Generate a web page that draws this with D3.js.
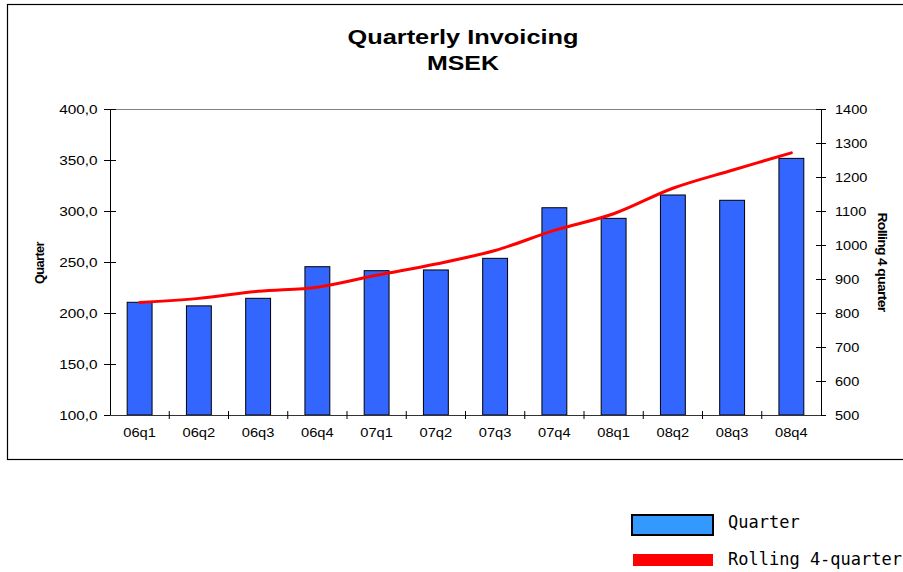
<!DOCTYPE html>
<html>
<head>
<meta charset="utf-8">
<script src="https://cdn.jsdelivr.net/npm/d3@7"></script>
<style>
  html, body { margin: 0; padding: 0; background: #fff; }
  svg { display: block; }
</style>
</head>
<body>
<svg id="chart" width="903" height="572"></svg>
<script>
const categories = ["06q1","06q2","06q3","06q4","07q1","07q2","07q3","07q4","08q1","08q2","08q3","08q4"];
const quarterValues = [210.5, 207.0, 214.4, 245.4, 241.5, 242.2, 253.6, 303.2, 292.8, 315.7, 310.5, 351.6];
const rollingValues = [831, 843, 864, 876, 911, 944, 984, 1043, 1092, 1167, 1220, 1271];
const leftTicks = [100, 150, 200, 250, 300, 350, 400];
const rightTicks = [500, 600, 700, 800, 900, 1000, 1100, 1200, 1300, 1400];
const titleLines = ["Quarterly Invoicing", "MSEK"];
const legendLabels = ["Quarter", "Rolling 4-quarter"];

const svg = d3.select("#chart");
const font = "'Liberation Sans', Arial, Helvetica, sans-serif";
const SX = 1.18; // horizontal stretch of the reference text

// outer frame
svg.append("rect").attr("x", 7.5).attr("y", 4.5).attr("width", 905).attr("height", 455)
  .attr("fill", "none").attr("stroke", "#000").attr("stroke-width", 1.2);

const plot = { left: 110, right: 821, top: 109, bottom: 415 };

const x = d3.scaleBand().domain(categories).range([plot.left, plot.right]).paddingInner(0.58).paddingOuter(0.29);
const xTickScale = d3.scaleLinear().domain([0, categories.length]).range([plot.left, plot.right]);
const yL = d3.scaleLinear().domain([100, 400]).range([plot.bottom, plot.top]);
const yR = d3.scaleLinear().domain([500, 1400]).range([plot.bottom, plot.top]);

// title
const titleWidths = [231, 72];
const titleY = [44, 70];
svg.selectAll("text.title").data(titleLines).join("text").attr("class", "title")
  .attr("x", 463).attr("y", (d, i) => titleY[i]).attr("text-anchor", "middle")
  .attr("font-family", font).attr("font-weight", "bold").attr("font-size", 21)
  .attr("textLength", (d, i) => titleWidths[i]).attr("lengthAdjust", "spacingAndGlyphs")
  .text(d => d);

// top border of plot area
svg.append("line").attr("x1", plot.left).attr("x2", plot.right).attr("y1", plot.top + 0.5).attr("y2", plot.top + 0.5)
  .attr("stroke", "#808080").attr("stroke-width", 1);

// bars
svg.append("g").selectAll("rect").data(categories).join("rect")
  .attr("x", d => x(d))
  .attr("y", (d, i) => yL(quarterValues[i]))
  .attr("width", x.bandwidth())
  .attr("height", (d, i) => plot.bottom - yL(quarterValues[i]))
  .attr("fill", "#3366FF").attr("stroke", "#000").attr("stroke-width", 1);

// line
const line = d3.line()
  .x((d, i) => x(categories[i]) + x.bandwidth() / 2)
  .y(d => yR(d))
  .curve(d3.curveCatmullRom.alpha(0.5));
svg.append("path").datum(rollingValues).attr("d", line)
  .attr("fill", "none").attr("stroke", "#FF0000").attr("stroke-width", 3).attr("stroke-linecap", "round");

// left axis
const leftAxis = d3.axisLeft(yL).tickValues(leftTicks).tickSizeInner(6).tickSizeOuter(0)
  .tickFormat(d => d3.format(".1f")(d).replace(".", ","));
const gL = svg.append("g").attr("transform", `translate(${plot.left},0)`).call(leftAxis);
gL.select(".domain").attr("stroke", "#000");
gL.selectAll(".tick line").attr("x2", 6).attr("x1", -6).attr("stroke", "#000");
gL.selectAll(".tick text").attr("x", -12.5 / SX).attr("transform", `scale(${SX},1)`)
  .attr("font-family", font).attr("font-size", 13).attr("fill", "#000");

// right axis
const rightAxis = d3.axisRight(yR).tickValues(rightTicks).tickSizeOuter(0).tickFormat(d3.format("d"));
const gR = svg.append("g").attr("transform", `translate(${plot.right},0)`).call(rightAxis);
gR.select(".domain").attr("stroke", "#000");
gR.selectAll(".tick line").attr("x1", -5).attr("x2", 5).attr("stroke", "#000");
gR.selectAll(".tick text").attr("x", 14 / 1.12).attr("transform", "scale(1.12,1)")
  .attr("font-family", font).attr("font-size", 13).attr("fill", "#000");

// bottom axis
const gB = svg.append("g").attr("transform", `translate(0,${plot.bottom})`);
gB.append("line").attr("x1", plot.left).attr("x2", plot.right).attr("y1", 0.5).attr("y2", 0.5).attr("stroke", "#333");
gB.selectAll("line.t").data(d3.range(1, categories.length)).join("line").attr("class", "t")
  .attr("x1", d => xTickScale(d)).attr("x2", d => xTickScale(d)).attr("y1", -4).attr("y2", 4).attr("stroke", "#000");
gB.selectAll("text").data(categories).join("text")
  .attr("transform", d => `translate(${x(d) + x.bandwidth() / 2},22) scale(1.13,1)`).attr("text-anchor", "middle")
  .attr("font-family", font).attr("font-size", 13).text(d => d);

// axis titles
svg.append("text").attr("transform", "translate(44,263) rotate(-90)").attr("text-anchor", "middle")
  .attr("font-family", font).attr("font-weight", "bold").attr("font-size", 12.5).attr("letter-spacing", -0.6)
  .attr("textLength", 42).attr("lengthAdjust", "spacingAndGlyphs").text("Quarter");
svg.append("text").attr("transform", "translate(878,262) rotate(90)").attr("text-anchor", "middle")
  .attr("font-family", font).attr("font-weight", "bold").attr("font-size", 12.5).attr("letter-spacing", -0.6)
  .attr("textLength", 99).attr("lengthAdjust", "spacingAndGlyphs").text("Rolling 4 quarter");

// legend
const mono = "'DejaVu Sans Mono', 'Liberation Mono', monospace";
svg.append("rect").attr("x", 632).attr("y", 515).attr("width", 81).attr("height", 20)
  .attr("fill", "#3399FF").attr("stroke", "#000").attr("stroke-width", 2);
svg.append("rect").attr("x", 633).attr("y", 554).attr("width", 80).attr("height", 12).attr("fill", "#FF0000");
svg.selectAll("text.leg").data(legendLabels).join("text").attr("class", "leg")
  .attr("x", 728).attr("y", (d, i) => 528 + i * 37)
  .attr("font-family", mono).attr("font-size", 17).text(d => d);
</script>
</body>
</html>
